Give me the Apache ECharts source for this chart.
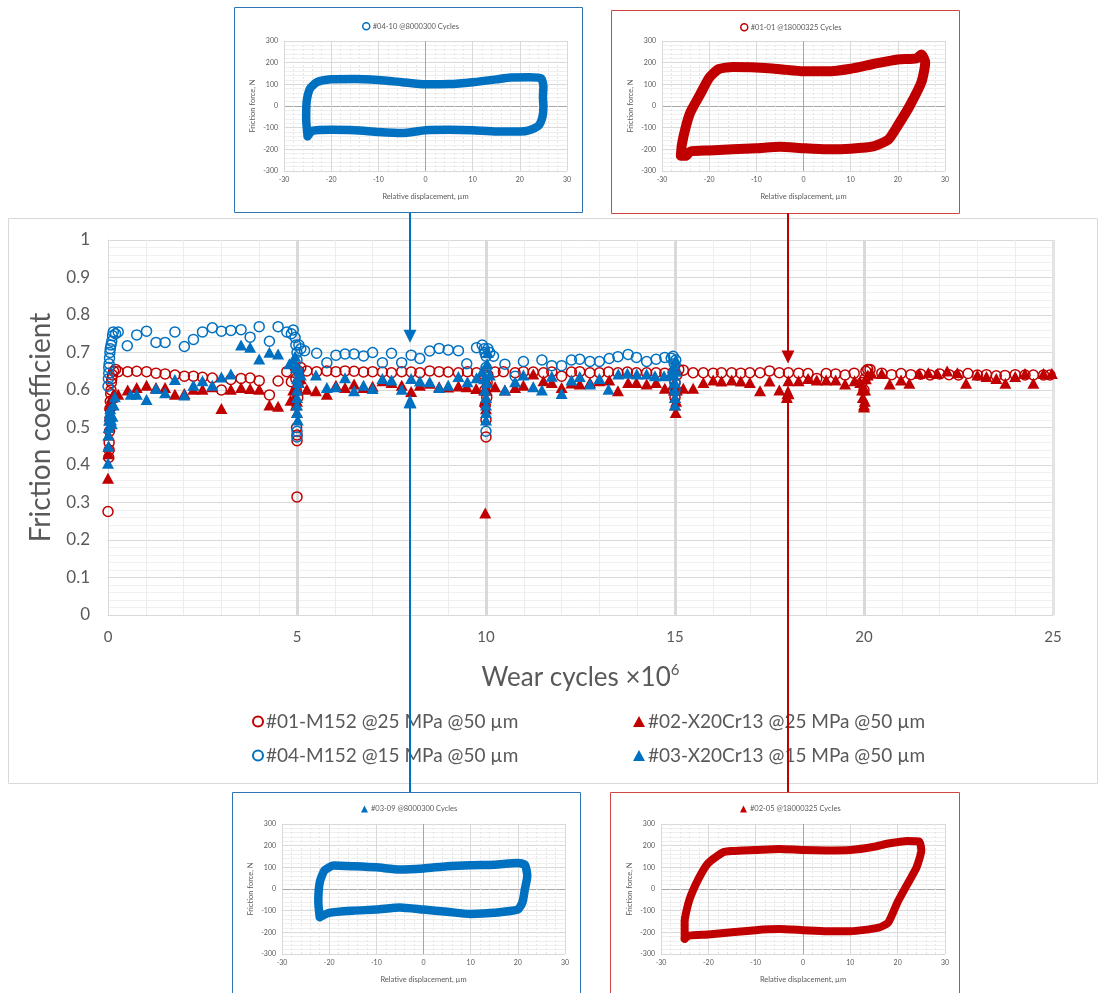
<!DOCTYPE html>
<html><head><meta charset="utf-8">
<script src="https://cdn.jsdelivr.net/npm/echarts@6/dist/echarts.min.js"></script>
<style>html,body{margin:0;padding:0;background:#fff}#c{width:1098px;height:993px}</style>
</head><body><div id="c"></div>
<script>
// ---------- DATA ----------
const seriesNames = ['#01-M152 @25 MPa @50 µm','#02-X20Cr13 @25 MPa @50 µm','#04-M152 @15 MPa @50 µm','#03-X20Cr13 @15 MPa @50 µm'];
const xTicks = [0,5,10,15,20,25];
const yTicks = [0,0.1,0.2,0.3,0.4,0.5,0.6,0.7,0.8,0.9,1];

const s01 = [[0,0.276],[0.02,0.42],[0.03,0.44],[0.03,0.46],[0.04,0.49],[0.05,0.52],[0.05,0.55],[0.06,0.57],[0.07,0.59],[0.08,0.6],[0.09,0.62],[0.1,0.63],[0.12,0.64],[0.15,0.65],[0.2,0.655],[0.27,0.649],
[0.52,0.649],[0.76,0.65],[1.02,0.649],[1.27,0.645],[1.51,0.643],[1.77,0.64],[2.02,0.637],[2.26,0.637],[2.5,0.634],[2.76,0.632],[3.0,0.6],[3.25,0.628],[3.52,0.631],[3.76,0.632],[4.0,0.625],[4.27,0.587],[4.5,0.624],[4.73,0.649],[4.85,0.622],
[4.95,0.66],[4.97,0.63],[4.98,0.6],[4.99,0.5],[5.0,0.48],[5.0,0.465],[5.0,0.315],[5.02,0.58],[5.03,0.62],[5.05,0.65],[5.1,0.66],
[5.26,0.651],[5.52,0.649],[5.79,0.651],[6.03,0.649],[6.27,0.651],[6.51,0.65],[6.76,0.648],[7.0,0.649],[7.26,0.648],[7.5,0.646],[7.77,0.649],[8.02,0.648],[8.25,0.646],[8.51,0.651],[8.76,0.649],[9.0,0.648],[9.27,0.646],[9.51,0.649],[9.75,0.646],
[9.95,0.64],[9.97,0.6],[9.98,0.56],[10.0,0.52],[10.0,0.475],[10.02,0.58],[10.03,0.62],[10.05,0.64],
[10.24,0.648],[10.46,0.649],[10.77,0.646],[10.99,0.649],[11.25,0.648],[11.52,0.646],[11.74,0.648],[12.0,0.637],[12.26,0.648],[12.48,0.649],[12.75,0.646],[13.0,0.646],[13.24,0.648],[13.49,0.646],[13.74,0.648],[13.98,0.646],[14.25,0.646],[14.5,0.646],[14.73,0.645],[14.95,0.647],
[15.0,0.62],[15.02,0.6],[15.0,0.58],[15.05,0.64],[15.1,0.655],
[15.22,0.653],[15.48,0.646],[15.75,0.646],[16.01,0.645],[16.23,0.646],[16.5,0.646],[16.74,0.645],[16.98,0.646],[17.25,0.646],[17.5,0.651],[17.76,0.646],[18.0,0.646],[18.27,0.645],[18.52,0.644],[18.75,0.631],[19.0,0.644],[19.25,0.643],[19.5,0.64],[19.74,0.645],
[19.95,0.62],[20.0,0.6],[20.02,0.63],[20.05,0.65],[20.1,0.655],[20.16,0.655],
[20.47,0.645],[20.73,0.641],[20.98,0.644],[21.24,0.641],[21.5,0.642],[21.75,0.64],[22.0,0.643],[22.25,0.641],[22.5,0.64],[22.75,0.644],[23.0,0.64],[23.24,0.641],[23.5,0.638],[23.73,0.639],[24.0,0.641],[24.26,0.64],[24.48,0.64],[24.75,0.64],[24.92,0.64]];

const s02 = [[0,0.365],[0.01,0.43],[0.02,0.45],[0.02,0.48],[0.03,0.5],[0.04,0.52],[0.05,0.54],[0.06,0.56],[0.08,0.57],[0.1,0.58],[0.15,0.59],
[0.27,0.589],[0.52,0.6],[0.76,0.607],[1.02,0.613],[1.27,0.607],[1.51,0.607],[1.77,0.589],[2.02,0.591],[2.26,0.602],[2.5,0.602],[2.76,0.609],[3.0,0.551],[3.25,0.602],[3.52,0.607],[3.76,0.604],[4.0,0.602],[4.27,0.56],[4.5,0.557],[4.83,0.573],
[4.9,0.6],[4.95,0.58],[4.97,0.56],[5.0,0.54],[5.0,0.57],[5.02,0.6],[5.05,0.62],[5.1,0.63],
[5.26,0.602],[5.5,0.598],[5.79,0.589],[6.03,0.613],[6.27,0.607],[6.51,0.616],[6.76,0.607],[7.0,0.61],[7.26,0.625],[7.5,0.62],[7.77,0.613],[8.02,0.596],[8.25,0.613],[8.51,0.618],[8.76,0.609],[9.0,0.608],[9.27,0.611],[9.49,0.609],[9.74,0.604],
[9.95,0.6],[9.97,0.57],[9.98,0.272],[10.0,0.55],[10.0,0.58],[10.02,0.6],[10.05,0.62],
[10.24,0.609],[10.5,0.6],[10.77,0.607],[10.99,0.613],[11.25,0.643],[11.52,0.625],[11.74,0.62],[12.0,0.607],[12.26,0.619],[12.48,0.616],[12.75,0.62],[13.0,0.625],[13.26,0.627],[13.49,0.598],[13.76,0.62],[13.98,0.62],[14.25,0.616],[14.5,0.62],[14.73,0.605],[14.95,0.615],
[14.97,0.6],[15.0,0.58],[15.0,0.56],[15.02,0.54],[15.03,0.57],[15.05,0.6],
[15.22,0.605],[15.48,0.605],[15.75,0.62],[16.01,0.627],[16.23,0.624],[16.5,0.627],[16.74,0.624],[16.98,0.62],[17.25,0.598],[17.5,0.624],[17.76,0.6],[17.96,0.58],[18.0,0.625],[18.27,0.625],[18.52,0.631],[18.75,0.627],[19.0,0.627],[19.25,0.627],[19.5,0.616],[19.75,0.625],
[19.9,0.62],[19.95,0.6],[19.97,0.58],[20.0,0.56],[20.0,0.555],[20.02,0.57],[20.03,0.6],[20.05,0.63],[20.1,0.64],[20.2,0.645],
[20.47,0.644],[20.68,0.616],[20.98,0.627],[21.2,0.618],[21.46,0.644],[21.7,0.646],[21.94,0.644],[22.2,0.651],[22.47,0.646],[22.7,0.618],[23.0,0.64],[23.24,0.636],[23.5,0.631],[23.74,0.618],[24.0,0.636],[24.26,0.644],[24.48,0.618],[24.75,0.644],[24.97,0.644]];

const s04 = [[0.0,0.61],[0.01,0.63],[0.02,0.645],[0.02,0.66],[0.03,0.67],[0.04,0.685],[0.05,0.7],[0.06,0.71],[0.08,0.72],[0.1,0.73],[0.12,0.745],[0.14,0.755],[0.2,0.75],
[0.27,0.755],[0.51,0.718],[0.76,0.747],[1.02,0.757],[1.27,0.727],[1.51,0.727],[1.77,0.755],[2.02,0.716],[2.26,0.735],[2.5,0.755],[2.76,0.766],[3.0,0.757],[3.25,0.759],[3.52,0.761],[3.76,0.741],[4.0,0.769],[4.27,0.73],[4.5,0.769],[4.73,0.755],[4.85,0.75],
[4.9,0.76],[4.95,0.74],[4.97,0.72],[5.0,0.7],[5.0,0.68],[5.02,0.65],[5.0,0.49],[5.0,0.475],[5.05,0.72],[5.1,0.71],[5.2,0.705],
[5.52,0.698],[5.79,0.673],[6.03,0.693],[6.27,0.696],[6.51,0.696],[6.76,0.691],[7.0,0.7],[7.26,0.673],[7.5,0.698],[7.77,0.673],[8.02,0.693],[8.25,0.684],[8.51,0.704],[8.76,0.711],[9.0,0.707],[9.27,0.705],[9.49,0.67],[9.75,0.713],
[9.9,0.72],[9.95,0.71],[9.97,0.7],[10.0,0.69],[10.0,0.66],[10.02,0.64],[10.0,0.49],[10.05,0.71],[10.1,0.7],[10.2,0.69],
[10.5,0.669],[10.77,0.637],[10.99,0.676],[11.48,0.68],[11.74,0.665],[12.0,0.665],[12.26,0.68],[12.48,0.682],[12.75,0.676],[13.0,0.676],[13.26,0.684],[13.49,0.689],[13.76,0.695],[13.98,0.687],[14.25,0.676],[14.5,0.682],[14.73,0.687],[14.9,0.685],
[14.95,0.69],[14.98,0.67],[15.0,0.65],[15.0,0.62],[15.0,0.6],[15.02,0.68]];

const s03 = [[0.0,0.405],[0.01,0.45],[0.01,0.48],[0.02,0.5],[0.03,0.52],[0.04,0.53],[0.05,0.54],[0.06,0.55],[0.08,0.52],[0.1,0.51],[0.12,0.53],[0.15,0.56],[0.18,0.582],
[0.6,0.589],[0.76,0.589],[1.02,0.575],[1.27,0.604],[1.51,0.593],[1.77,0.628],[2.02,0.587],[2.26,0.613],[2.5,0.625],[2.76,0.613],[3.0,0.635],[3.25,0.643],[3.52,0.72],[3.76,0.714],[4.0,0.683],[4.27,0.701],[4.5,0.696],
[4.8,0.67],[4.9,0.68],[4.95,0.69],[4.97,0.66],[5.0,0.63],[5.0,0.6],[5.0,0.58],[5.0,0.56],[5.0,0.54],[5.02,0.52],[5.03,0.62],[5.05,0.65],[5.1,0.64],
[5.5,0.64],[5.79,0.607],[6.03,0.609],[6.27,0.633],[6.51,0.598],[6.76,0.613],[7.0,0.604],[7.26,0.631],[7.5,0.627],[7.77,0.602],[8.0,0.566],[8.02,0.631],[8.25,0.624],[8.51,0.622],[8.76,0.607],[9.0,0.613],[9.27,0.636],[9.51,0.622],[9.75,0.633],
[9.9,0.65],[9.95,0.63],[9.97,0.6],[10.0,0.58],[10.0,0.56],[10.0,0.54],[10.0,0.52],[10.02,0.62],[10.03,0.67],[10.05,0.7],[10.1,0.64],
[10.5,0.6],[10.77,0.622],[10.99,0.64],[11.25,0.609],[11.48,0.6],[11.74,0.637],[12.0,0.591],[12.26,0.627],[12.48,0.636],[12.75,0.616],[13.0,0.631],[13.24,0.602],[13.5,0.643],[13.74,0.645],[13.99,0.643],[14.25,0.643],[14.47,0.638],[14.71,0.638],[14.9,0.645],
[14.95,0.66],[14.97,0.64],[15.0,0.62],[15.0,0.6],[15.0,0.58],[15.0,0.56],[15.02,0.68],[15.03,0.65]];

// inset loops: [displacement µm, friction force N]
const insetNames = ['#04-10 @8000300 Cycles','#01-01 @18000325 Cycles','#03-09 @8000300 Cycles','#02-05 @18000325 Cycles'];
const loopTL = [[-25,-140],[-25.3,-60],[-25.2,20],[-24.5,80],[-23,110],[-20,123],[-15,125],[-10,120],[-5,110],[0,100],[5,101],[10,110],[15,123],[18,132],[22,133],[24.5,128],[25,90],[24.9,40],[25,0],[24.8,-50],[24,-90],[22,-112],[20,-118],[15,-118],[10,-112],[5,-110],[0,-112],[-5,-125],[-10,-120],[-15,-112],[-20,-110],[-24,-115],[-25,-140]];
const loopTR = [[-26,-230],[-25.8,-180],[-25,-100],[-24,-30],[-22,50],[-20,130],[-18,170],[-15,180],[-10,178],[-5,170],[0,160],[5,160],[10,172],[15,195],[20,215],[24,220],[25,238],[25.8,200],[25,110],[22.5,0],[20,-90],[18,-155],[15,-185],[10,-197],[5,-200],[0,-195],[-5,-188],[-10,-195],[-20,-205],[-24,-210],[-25,-230],[-26,-230]];
const loopBL = [[-22,-130],[-22.3,-60],[-22,30],[-21,85],[-19,108],[-15,105],[-10,100],[-5,90],[0,95],[5,105],[10,110],[15,112],[20,120],[21.5,112],[22,60],[21.5,0],[21,-60],[20,-95],[15,-110],[10,-115],[5,-105],[0,-95],[-5,-85],[-10,-95],[-15,-100],[-20,-110],[-22,-130]];
const loopBR = [[-25,-230],[-25,-150],[-24,-50],[-22,50],[-20,120],[-17,168],[-15,175],[-10,180],[-5,185],[0,180],[5,178],[10,180],[15,195],[18,210],[22,222],[24.5,220],[25,180],[24,100],[22,20],[20,-60],[18,-155],[16,-178],[10,-195],[5,-195],[0,-190],[-5,-185],[-10,-190],[-20,-210],[-24,-215],[-25,-230]];

// annotation arrows (x in 10^6 cycles, friction coefficient at arrow tip)
const arrowX = [8, 18];
const arrowTopTip = [0.726, 0.671];
const arrowBottomTip = [0.589, 0.613];

// ---------- STYLE ----------
const FONT = 'Lato';
const RED = '#C00000', BLUE = '#0070C0', TXT = '#595959';

const chart = echarts.init(document.getElementById('c'), null, {renderer:'canvas'});

function insetAxes(gi){
  const x = {type:'value', gridIndex:gi, min:-30, max:30, interval:10,
    axisLine:{show:false}, axisTick:{show:false},
    axisLabel:{fontSize:7, color:TXT, fontFamily:FONT, margin:5},
    splitLine:{lineStyle:{color:['#d9d9d9','#d9d9d9','#d9d9d9','#a6a6a6','#d9d9d9','#d9d9d9','#d9d9d9'], width:1}},
    minorTick:{show:false, splitNumber:5},
    minorSplitLine:{show:true, lineStyle:{color:'#e6e6e6', type:[2,2], width:1}},
    name:'Relative displacement, µm', nameLocation:'middle', nameGap:22,
    nameTextStyle:{fontSize:7.5, color:TXT, fontFamily:FONT}};
  const y = {type:'value', gridIndex:gi, min:-300, max:300, interval:100,
    axisLine:{show:false}, axisTick:{show:false},
    axisLabel:{fontSize:7, color:TXT, fontFamily:FONT, margin:6},
    splitLine:{lineStyle:{color:['#d9d9d9','#d9d9d9','#d9d9d9','#a6a6a6','#d9d9d9','#d9d9d9','#d9d9d9'], width:1}},
    minorTick:{show:false, splitNumber:5},
    minorSplitLine:{show:true, lineStyle:{color:'#efefef', width:1}},
    name:'Friction force, N', nameLocation:'middle', nameGap:27,
    nameTextStyle:{fontSize:7.5, color:TXT, fontFamily:FONT}};
  return [x,y];
}
const ax = [1,2,3,4].map(insetAxes);

const option = {
  animation:false,
  backgroundColor:'#fff',
  textStyle:{fontFamily:FONT},
  grid:[
    {left:108, top:240, width:945, height:375},
    {left:284, top:41, width:283, height:130},
    {left:662, top:41, width:283, height:130},
    {left:282, top:824, width:283, height:130},
    {left:661, top:824, width:284, height:130}
  ],
  xAxis:[
    {type:'value', gridIndex:0, min:xTicks[0], max:xTicks[xTicks.length-1], interval:5,
     axisLine:{show:true, onZero:false, lineStyle:{color:'#d9d9d9'}}, axisTick:{show:false},
     axisLabel:{fontSize:15, color:TXT, fontFamily:FONT, margin:15},
     splitLine:{lineStyle:{color:['transparent','#d9d9d9','#d9d9d9','#d9d9d9','#d9d9d9','#e3e3e3'], width:3}},
     minorTick:{show:false, splitNumber:5},
     minorSplitLine:{show:true, lineStyle:{color:'#ececec', width:1}},
     name:'Wear cycles ×10{sup|6}', nameLocation:'middle', nameGap:48,
     nameTextStyle:{fontSize:26, color:TXT, fontFamily:FONT,
       rich:{sup:{fontSize:15, color:TXT, fontFamily:FONT, verticalAlign:'top', lineHeight:30}}}},
    ax[0][0], ax[1][0], ax[2][0], ax[3][0]
  ],
  yAxis:[
    {type:'value', gridIndex:0, min:yTicks[0], max:yTicks[yTicks.length-1], interval:0.1,
     axisLine:{show:true, onZero:false, lineStyle:{color:'#d9d9d9'}}, axisTick:{show:false},
     axisLabel:{fontSize:17, color:TXT, fontFamily:FONT, margin:18},
     splitLine:{lineStyle:{color:'#d9d9d9', width:1}},
     minorTick:{show:false, splitNumber:5},
     minorSplitLine:{show:true, lineStyle:{color:'#f0f0f0', width:1}},
     name:'Friction coefficient', nameLocation:'middle', nameGap:46,
     nameTextStyle:{fontSize:28, color:TXT, fontFamily:FONT}},
    ax[0][1], ax[1][1], ax[2][1], ax[3][1]
  ],
  legend:[
    {left:247, top:705, orient:'vertical', itemGap:11, itemWidth:10, itemHeight:10,
     data:[seriesNames[0], seriesNames[2]],
     textStyle:{fontSize:19, color:TXT, fontFamily:FONT, lineHeight:23, padding:[0,0,0,-2]}},
    {left:628, top:705, orient:'vertical', itemGap:11, itemWidth:12, itemHeight:11,
     data:[seriesNames[1], seriesNames[3]],
     textStyle:{fontSize:19, color:TXT, fontFamily:FONT, lineHeight:23, padding:[0,0,0,-2]}},
    {left:357, top:17, itemWidth:7, itemHeight:7, itemGap:3,
     data:[{name:insetNames[0], icon:'circle', itemStyle:{color:'transparent', borderColor:BLUE, borderWidth:1.5}}],
     textStyle:{fontSize:7.5, color:TXT, fontFamily:FONT, padding:[0,0,0,-2]}},
    {left:735, top:18, itemWidth:7, itemHeight:7, itemGap:3,
     data:[{name:insetNames[1], icon:'circle', itemStyle:{color:'transparent', borderColor:RED, borderWidth:1.5}}],
     textStyle:{fontSize:7.5, color:TXT, fontFamily:FONT, padding:[0,0,0,-2]}},
    {left:356, top:800, itemWidth:7, itemHeight:7, itemGap:3,
     data:[{name:insetNames[2], icon:'triangle', itemStyle:{color:BLUE, borderWidth:0}}],
     textStyle:{fontSize:7.5, color:TXT, fontFamily:FONT, padding:[0,0,0,-2]}},
    {left:735, top:800, itemWidth:7, itemHeight:7, itemGap:3,
     data:[{name:insetNames[3], icon:'triangle', itemStyle:{color:RED, borderWidth:0}}],
     textStyle:{fontSize:7.5, color:TXT, fontFamily:FONT, padding:[0,0,0,-2]}}
  ],
  series:[
    {name:seriesNames[0], type:'scatter', xAxisIndex:0, yAxisIndex:0, data:s01, symbol:'circle', symbolSize:10,
     itemStyle:{color:'rgba(0,0,0,0)', borderColor:RED, borderWidth:1.5, opacity:1}, z:2},
    {name:seriesNames[1], type:'scatter', xAxisIndex:0, yAxisIndex:0, data:s02, symbol:'triangle', symbolSize:[12,11],
     itemStyle:{color:RED, opacity:1}, z:3},
    {name:seriesNames[2], type:'scatter', xAxisIndex:0, yAxisIndex:0, data:s04, symbol:'circle', symbolSize:10,
     itemStyle:{color:'rgba(0,0,0,0)', borderColor:BLUE, borderWidth:1.5, opacity:1}, z:4},
    {name:seriesNames[3], type:'scatter', xAxisIndex:0, yAxisIndex:0, data:s03, symbol:'triangle', symbolSize:[12,11],
     itemStyle:{color:BLUE, opacity:1}, z:5},
    {name:insetNames[0], type:'line', xAxisIndex:1, yAxisIndex:1, data:loopTL, showSymbol:false, symbol:'none', smooth:0.2,
     lineStyle:{color:BLUE, width:8.5, join:'round', cap:'round'}, itemStyle:{color:BLUE}},
    {name:insetNames[1], type:'line', xAxisIndex:2, yAxisIndex:2, data:loopTR, showSymbol:false, symbol:'none', smooth:0.2,
     lineStyle:{color:RED, width:10, join:'round', cap:'round'}, itemStyle:{color:RED}},
    {name:insetNames[2], type:'line', xAxisIndex:3, yAxisIndex:3, data:loopBL, showSymbol:false, symbol:'none', smooth:0.2,
     lineStyle:{color:BLUE, width:8.5, join:'round', cap:'round'}, itemStyle:{color:BLUE}},
    {name:insetNames[3], type:'line', xAxisIndex:4, yAxisIndex:4, data:loopBR, showSymbol:false, symbol:'none', smooth:0.2,
     lineStyle:{color:RED, width:8, join:'round', cap:'round'}, itemStyle:{color:RED}}
  ]
};
chart.setOption(option);

// frames + connectors
const frames = [
  {x:234.5, y:7.5, w:348, h:205, c:'#2e75b6'},
  {x:611.5, y:10.5, w:348, h:203, c:'#d04545'},
  {x:232.5, y:792.5, w:348, h:210, c:'#2e75b6'},
  {x:610.5, y:792.5, w:349, h:210, c:'#d04545'}
];
const g = [];
g.push({type:'rect', shape:{x:8.5, y:218.5, width:1089, height:565}, style:{fill:null, stroke:'#d9d9d9', lineWidth:1}, z:1, silent:true});
frames.forEach(f=>g.push({type:'rect', shape:{x:f.x, y:f.y, width:f.w, height:f.h}, style:{fill:null, stroke:f.c, lineWidth:1}, z:10, silent:true}));
const colors = [BLUE, RED];
const topY = [213, 213], botY = [792, 792];
arrowX.forEach((xv,i)=>{
  const pTop = chart.convertToPixel({gridIndex:0}, [xv, arrowTopTip[i]]);
  const pBot = chart.convertToPixel({gridIndex:0}, [xv, arrowBottomTip[i]]);
  const px = Math.round(pTop[0]);
  const c = colors[i];
  g.push({type:'line', shape:{x1:px, y1:topY[i], x2:px, y2:pTop[1]-8}, style:{stroke:c, lineWidth:2}, z:20, silent:true});
  g.push({type:'polygon', shape:{points:[[px-6.5,pTop[1]-13],[px+6.5,pTop[1]-13],[px,pTop[1]]]}, style:{fill:c}, z:20, silent:true});
  g.push({type:'line', shape:{x1:px, y1:botY[i], x2:px, y2:pBot[1]+8}, style:{stroke:c, lineWidth:2}, z:20, silent:true});
  g.push({type:'polygon', shape:{points:[[px-6.5,pBot[1]+14],[px+6.5,pBot[1]+14],[px,pBot[1]]]}, style:{fill:c}, z:20, silent:true});
});
chart.setOption({graphic:g});
</script></body></html>
